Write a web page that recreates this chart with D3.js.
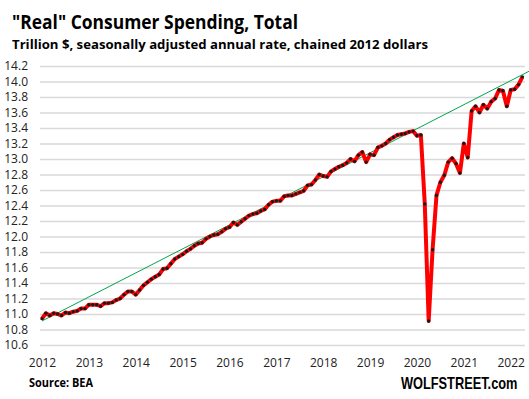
<!DOCTYPE html>
<html>
<head>
<meta charset="utf-8">
<script src="https://cdn.jsdelivr.net/npm/d3@7"></script>
<style>
  body { margin: 0; background: #fff; }
  svg { display: block; }
</style>
</head>
<body>
<div id="chart"></div>
<script>
// Monthly real PCE, trillion $ (chained 2012), Jan 2012 .. Apr 2022
const startYear = 2012;
const spending = [
  10.94, 11.01, 10.98, 11.01, 11.00, 10.98, 11.02, 11.01, 11.03, 11.04, 11.07, 11.07, // 2012
  11.12, 11.12, 11.12, 11.10, 11.14, 11.14, 11.15, 11.18, 11.20, 11.25, 11.29, 11.29, // 2013
  11.25, 11.31, 11.37, 11.41, 11.45, 11.48, 11.51, 11.58, 11.59, 11.65, 11.71, 11.74, // 2014
  11.77, 11.81, 11.84, 11.88, 11.91, 11.92, 11.97, 12.00, 12.02, 12.03, 12.06, 12.10, // 2015
  12.12, 12.18, 12.15, 12.19, 12.23, 12.27, 12.29, 12.30, 12.33, 12.35, 12.41, 12.45, // 2016
  12.46, 12.46, 12.52, 12.53, 12.53, 12.55, 12.57, 12.59, 12.66, 12.67, 12.73, 12.80, // 2017
  12.78, 12.77, 12.84, 12.87, 12.90, 12.92, 12.95, 13.00, 12.97, 13.05, 13.09, 12.96, // 2018
  13.06, 13.05, 13.15, 13.17, 13.20, 13.25, 13.28, 13.31, 13.32, 13.33, 13.35, 13.36, // 2019
  13.30, 13.31, 12.42, 10.91, 11.83, 12.53, 12.70, 12.79, 12.96, 13.01, 12.94, 12.82, // 2020
  13.20, 13.02, 13.62, 13.68, 13.60, 13.70, 13.65, 13.74, 13.78, 13.89, 13.88, 13.68, // 2021
  13.89, 13.90, 13.96, 14.06                                                          // 2022
];
// trend line end points: [month index from Jan 2012, value]
const trendLine = [[0, 10.91], [125, 14.14]];
const yearLabels = ["2012", "2013", "2014", "2015", "2016", "2017", "2018", "2019", "2020", "2021", "2022"];
const yTicks = [10.6, 10.8, 11.0, 11.2, 11.4, 11.6, 11.8, 12.0, 12.2, 12.4, 12.6, 12.8, 13.0, 13.2, 13.4, 13.6, 13.8, 14.0, 14.2];

const W = 529, H = 399;
const plot = { left: 40, right: 525, top: 66, bottom: 345 };

const svg = d3.select("#chart").append("svg")
    .attr("width", W)
    .attr("height", H);

svg.append("rect").attr("width", W).attr("height", H).attr("fill", "#fff");

// month index -> x ; Jan 2012 sits at 42, Jan 2022 at 510.7
const x = d3.scaleLinear()
    .domain([0, 120])
    .range([42, 510.7]);

const y = d3.scaleLinear()
    .domain([10.6, 14.2])
    .range([plot.bottom, plot.top]);

// titles
svg.append("text")
    .attr("x", 12).attr("y", 29)
    .attr("textLength", 286).attr("lengthAdjust", "spacingAndGlyphs")
    .style("font-family", "'Open Sans', sans-serif")
    .style("font-weight", "bold")
    .style("font-size", "20px")
    .attr("fill", "#000")
    .text("\"Real\" Consumer Spending,  Total");

svg.append("text")
    .attr("x", 12).attr("y", 49)
    .attr("textLength", 416).attr("lengthAdjust", "spacingAndGlyphs")
    .style("font-family", "'Open Sans', sans-serif")
    .style("font-weight", "bold")
    .style("font-size", "12.5px")
    .attr("fill", "#000")
    .text("Trillion $, seasonally adjusted annual rate, chained 2012 dollars");

// y axis + gridlines
const yAxis = svg.append("g")
    .attr("transform", "translate(" + plot.left + ",0)")
    .call(d3.axisLeft(y)
        .tickValues(yTicks)
        .tickSize(-(plot.right - plot.left))
        .tickPadding(12)
        .tickFormat(d3.format(".1f")));
yAxis.select(".domain").remove();
yAxis.selectAll("line").attr("stroke", "#d9d9d9").attr("stroke-width", 1.3);
yAxis.selectAll("text")
    .style("font-family", "'Open Sans', sans-serif")
    .style("font-size", "12px")
    .attr("fill", "#222");

// x axis labels
const xAxis = svg.append("g")
    .attr("transform", "translate(0," + plot.bottom + ")")
    .call(d3.axisBottom(x)
        .tickValues(yearLabels.map((d, i) => i * 12))
        .tickSize(0)
        .tickPadding(13)
        .tickFormat((d, i) => yearLabels[i]));
xAxis.select(".domain").remove();
xAxis.selectAll("text")
    .style("font-family", "'Open Sans', sans-serif")
    .style("font-size", "12px")
    .attr("fill", "#222");

// trend line
svg.append("path")
    .datum(trendLine)
    .attr("d", d3.line().x(d => x(d[0])).y(d => y(d[1])))
    .attr("fill", "none")
    .attr("stroke", "#00a550")
    .attr("stroke-width", 1);

// data line
const series = spending.map((v, i) => ({ i: i, value: v }));

svg.append("path")
    .datum(series)
    .attr("d", d3.line().x(d => x(d.i)).y(d => y(d.value)))
    .attr("fill", "none")
    .attr("stroke", "#ff0000")
    .attr("stroke-width", 4)
    .attr("stroke-linejoin", "round");

svg.append("g")
    .selectAll("circle")
    .data(series)
    .enter()
    .append("circle")
    .attr("cx", d => x(d.i))
    .attr("cy", d => y(d.value))
    .attr("r", 1.7)
    .attr("fill", "#1a1a1a");

// footer
svg.append("text")
    .attr("x", 29).attr("y", 387)
    .attr("textLength", 64).attr("lengthAdjust", "spacingAndGlyphs")
    .style("font-family", "'Open Sans', sans-serif")
    .style("font-weight", "bold")
    .style("font-size", "11.5px")
    .attr("fill", "#000")
    .text("Source: BEA");

// site mark: narrow bold face, stretched vertically
svg.append("g")
    .attr("transform", "translate(517.5,388.5) scale(1,1.27)")
    .append("text")
    .attr("x", 0).attr("y", 0)
    .attr("text-anchor", "end")
    .style("font-family", "'Liberation Sans', Arial, sans-serif")
    .style("font-weight", "bold")
    .style("font-size", "12.8px")
    .attr("fill", "#000")
    .text("WOLFSTREET.com");
</script>
</body>
</html>
